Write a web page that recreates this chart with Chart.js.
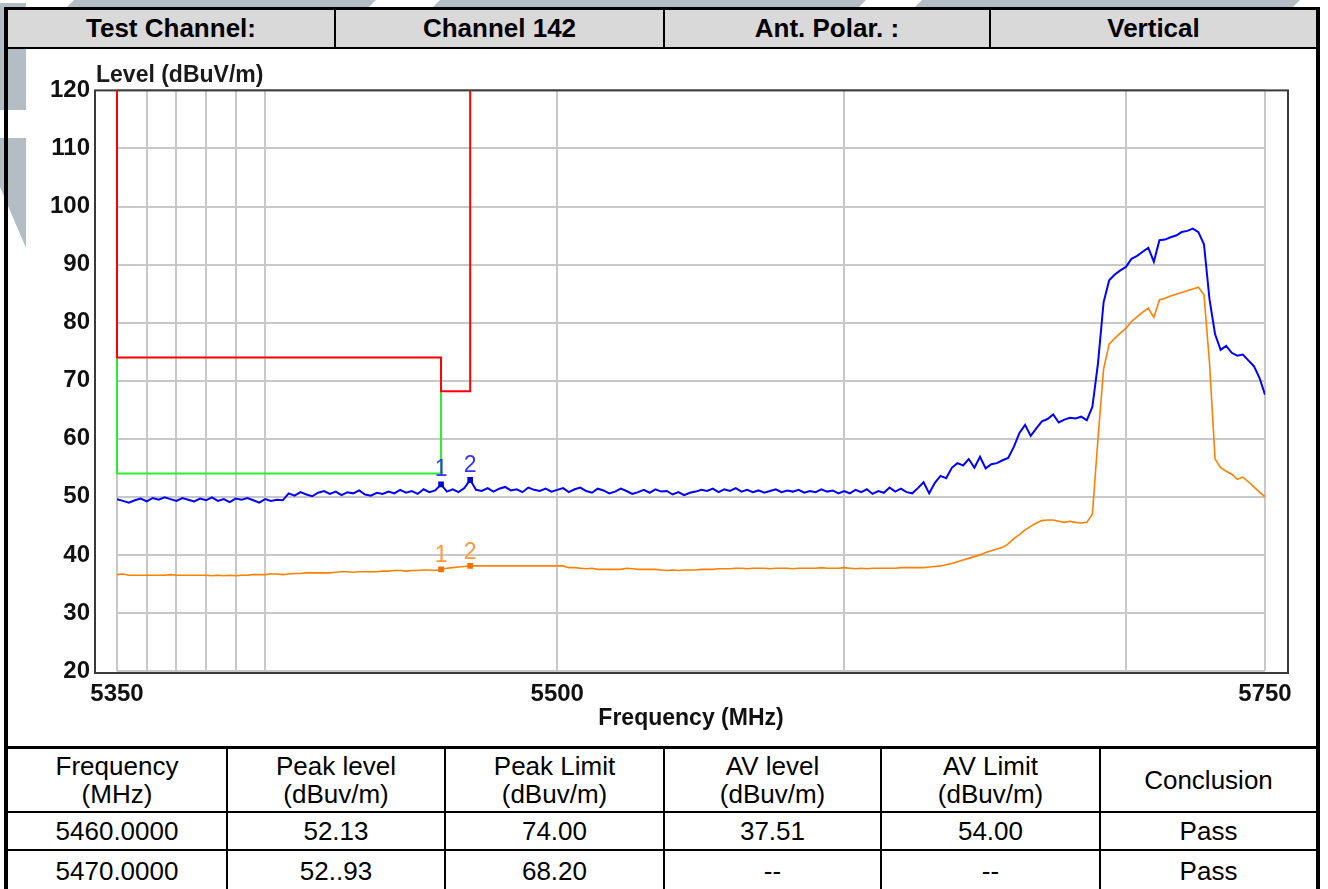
<!DOCTYPE html>
<html>
<head>
<meta charset="utf-8">
<title>Channel 142 - Vertical</title>
<script src="https://cdn.jsdelivr.net/npm/chart.js@4.4.1/dist/chart.umd.min.js"></script>
<style>
  html, body { margin: 0; padding: 0; background: #fff; }
  body {
    width: 1328px; height: 889px; position: relative; overflow: hidden;
    font-family: "Liberation Sans", Arial, sans-serif; color: #000;
  }
  #watermark { position: absolute; left: 0; top: 0; }
  .edge { position: absolute; background: #000; }

  /* header strip */
  #head {
    position: absolute; left: 8px; top: 10px; width: 1308px; height: 37px;
    display: grid; grid-template-columns: 326px 327px 324px 325px;
    column-gap: 2px; background: #000;
  }
  #head div {
    background: #d9d9d9; display: flex; align-items: center; justify-content: center;
    font-weight: bold; font-size: 26px;
  }

  #plot { position: absolute; left: 26px; top: 49px; width: 1290px; height: 697px; background: #fff; }

  /* result table */
  #results {
    position: absolute; left: 8px; top: 749px; width: 1308px; height: 142px;
    display: grid; grid-template-columns: 218px 216px 217px 215px 217px 215px;
    grid-template-rows: 62px 36px 40px; gap: 2px; background: #000;
  }
  #results div {
    background: #fff; display: flex; align-items: center; justify-content: center;
    text-align: center; font-size: 26px; line-height: 28px;
  }
</style>
</head>
<body>

<svg id="watermark" width="1328" height="889">
  <g fill="#b4bcc4">
    <polygon points="0,3 26,3 26,110 0,110"/>
    <polygon points="0,138 26,138 26,248 0,187"/>
    <polygon points="74,0 376,0 368,8 66,8"/>
    <polygon points="440,0 866,0 858,8 432,8"/>
    <polygon points="922,0 1300,0 1292,8 914,8"/>
  </g>
</svg>

<div class="edge" style="left:4px; top:7px; width:1316px; height:3px;"></div>
<div class="edge" style="left:4px; top:7px; width:4px; height:882px;"></div>
<div class="edge" style="left:1316px; top:7px; width:4px; height:882px;"></div>

<div id="head">
  <div>Test Channel:</div>
  <div>Channel 142</div>
  <div>Ant. Polar. :</div>
  <div>Vertical</div>
</div>
<div class="edge" style="left:8px; top:47px; width:1308px; height:2px;"></div>

<div id="plot"><canvas id="levelChart" width="1290" height="697"></canvas></div>

<div class="edge" style="left:8px; top:746px; width:1308px; height:3px;"></div>
<div id="results"></div>

<script>
// ── Sweep: 5350–5750 MHz, 2 MHz steps ─────
const SWEEP_START = 5350;
const SWEEP_STEP  = 2;

// Peak detector trace (dBuV/m)
const peakLevel = [
  49.6, 49.3, 49.0, 49.4, 49.7, 49.2, 49.8, 49.5, 49.9, 49.6,   // 5350
  49.3, 49.8, 49.5, 49.2, 49.7, 49.4, 49.9, 49.3, 49.6, 49.1,   // 5370
  49.7, 49.5, 49.8, 49.4, 49.0, 49.6, 49.3, 49.5, 49.4, 50.6,   // 5390
  50.2, 50.8, 50.4, 50.1, 50.7, 51.0, 50.5, 50.9, 50.3, 50.8,   // 5410
  50.6, 51.1, 50.4, 50.2, 50.7, 50.5, 50.9, 50.6, 51.2, 50.7,   // 5430
  51.0, 50.5, 51.3, 50.8, 51.1, 52.13, 50.9, 51.3, 50.8, 51.5,  // 5450
  52.93, 51.2, 51.0, 51.5, 50.9, 51.4, 51.7, 51.1, 51.3, 50.8,  // 5470
  51.6, 51.2, 51.0, 51.4, 50.9, 51.2, 51.5, 50.8, 51.3, 51.6,   // 5490
  51.0, 50.7, 51.4, 51.1, 50.6, 50.9, 51.4, 51.0, 50.5, 50.8,   // 5510
  51.2, 50.7, 51.3, 50.9, 51.0, 50.4, 50.8, 50.3, 50.7, 50.9,   // 5530
  51.2, 51.0, 51.4, 50.8, 51.3, 51.0, 51.5, 50.9, 51.2, 50.8,   // 5550
  51.1, 50.7, 51.0, 51.3, 50.8, 51.1, 50.9, 51.2, 50.7, 51.0,   // 5570
  50.8, 51.3, 50.9, 51.1, 50.6, 51.0, 50.6, 51.2, 50.8, 51.3,   // 5590
  50.5, 51.0, 50.7, 51.6, 50.9, 51.4, 50.8, 50.6, 51.5, 52.5,   // 5610
  50.6, 52.4, 53.6, 53.2, 55.0, 55.8, 55.4, 56.5, 55.0, 56.9,   // 5630
  54.9, 55.6, 55.8, 56.3, 56.7, 58.6, 61.0, 62.4, 60.5, 61.8,   // 5650
  63.0, 63.4, 64.2, 62.8, 63.3, 63.6, 63.5, 63.8, 63.2, 65.5,   // 5670
  73.0, 83.5, 87.3, 88.3, 89.0, 89.6, 91.0, 91.5, 92.2, 92.9,   // 5690
  90.5, 94.2, 94.3, 94.7, 95.0, 95.6, 95.8, 96.2, 95.6, 93.5,   // 5710
  84.0, 78.0, 75.3, 76.0, 74.8, 74.3, 74.5, 73.5, 72.5, 70.5,   // 5730
  67.6                                                          // 5750
];

// Average detector trace (dBuV/m)
const avgLevel = [
  36.6, 36.7, 36.5, 36.5, 36.5, 36.5, 36.5, 36.5, 36.5, 36.6,   // 5350
  36.5, 36.5, 36.5, 36.5, 36.5, 36.5, 36.4, 36.5, 36.4, 36.5,   // 5370
  36.4, 36.5, 36.5, 36.6, 36.6, 36.6, 36.7, 36.7, 36.6, 36.7,   // 5390
  36.8, 36.8, 36.9, 36.9, 36.9, 36.9, 36.9, 37.0, 37.1, 37.1,   // 5410
  37.0, 37.1, 37.1, 37.1, 37.1, 37.2, 37.2, 37.3, 37.3, 37.2,   // 5430
  37.3, 37.3, 37.4, 37.4, 37.3, 37.51, 37.7, 37.8, 37.9, 38.0,  // 5450
  38.1, 38.1, 38.1, 38.1, 38.1, 38.1, 38.1, 38.1, 38.1, 38.1,   // 5470
  38.1, 38.1, 38.1, 38.1, 38.1, 38.1, 38.1, 37.8, 37.8, 37.7,   // 5490
  37.6, 37.7, 37.5, 37.5, 37.5, 37.5, 37.5, 37.7, 37.6, 37.5,   // 5510
  37.5, 37.5, 37.5, 37.4, 37.3, 37.4, 37.3, 37.4, 37.4, 37.4,   // 5530
  37.5, 37.5, 37.5, 37.6, 37.6, 37.6, 37.7, 37.7, 37.6, 37.7,   // 5550
  37.7, 37.7, 37.6, 37.7, 37.7, 37.7, 37.6, 37.7, 37.7, 37.7,   // 5570
  37.7, 37.8, 37.7, 37.7, 37.7, 37.8, 37.7, 37.6, 37.7, 37.6,   // 5590
  37.7, 37.7, 37.7, 37.7, 37.7, 37.8, 37.8, 37.8, 37.8, 37.8,   // 5610
  37.9, 38.0, 38.1, 38.3, 38.5, 38.8, 39.1, 39.4, 39.7, 40.0,   // 5630
  40.4, 40.7, 41.0, 41.3, 41.9, 42.8, 43.5, 44.3, 44.9, 45.5,   // 5650
  45.9, 46.0, 46.0, 45.8, 45.6, 45.8, 45.6, 45.5, 45.6, 47.0,   // 5670
  60.0, 72.0, 76.3, 77.3, 78.2, 79.0, 80.2, 81.0, 81.8, 82.5,   // 5690
  80.9, 83.9, 84.2, 84.6, 84.9, 85.2, 85.5, 85.8, 86.1, 84.8,   // 5710
  73.0, 56.5, 55.0, 54.4, 53.9, 53.0, 53.4, 52.6, 51.7, 50.8,   // 5730
  50.0                                                          // 5750
];

// Restricted band limits
const peakLimitFreq  = [5350, 5350, 5460, 5460, 5470, 5470];
const peakLimitLevel = [120, 74, 74, 68.2, 68.2, 120];
const avgLimitFreq   = [5350, 5350, 5460, 5460];
const avgLimitLevel  = [74, 54, 54, 74];

// Markers
const markerFreq  = [5460, 5470];
const markerPeak  = [52.13, 52.93];
const markerAvg   = [37.51, 38.1];
const markerNames = ["1", "2"];

// Axes
const gridFreq    = [5350, 5360, 5370, 5380, 5390, 5400, 5500, 5600, 5700, 5750];
const xTickLabels = [5350, 5500, 5750];

// Result table
const tableHead = ["Frequency<br>(MHz)", "Peak level<br>(dBuv/m)", "Peak Limit<br>(dBuv/m)",
                   "AV level<br>(dBuv/m)", "AV Limit<br>(dBuv/m)", "Conclusion"];
const tableRows = [
  ["5460.0000", "52.13", "74.00", "37.51", "54.00", "Pass"],
  ["5470.0000", "52..93", "68.20", "--", "--", "Pass"],
];

// ── Table ─────────────────────────────────
(function buildTable() {
  const box = document.getElementById("results");
  [tableHead, ...tableRows].forEach(row => {
    row.forEach(txt => {
      const cell = document.createElement("div");
      cell.innerHTML = txt;
      box.appendChild(cell);
    });
  });
})();

// ── Helpers ───────────────────────────────
const FONT = "'Liberation Sans', Arial, sans-serif";
const sweepFreq = peakLevel.map((_, i) => SWEEP_START + i * SWEEP_STEP);
const toPoints  = (xs, ys) => xs.map((x, i) => ({ x, y: ys[i] }));

// ── Plugins ───────────────────────────────
// outer frame sits a little wider than the data area
const frameBox = {
  id: "frameBox",
  beforeDatasetsDraw(chart) {
    const { ctx, chartArea: a } = chart;
    ctx.save();
    ctx.strokeStyle = "#3a3a3a";
    ctx.lineWidth = 2;
    ctx.strokeRect(a.left - 22, a.top, a.right - a.left + 45, a.bottom - a.top + 2);
    ctx.restore();
  },
};

const levelCaption = {
  id: "levelCaption",
  afterDraw(chart) {
    const { ctx, chartArea: a } = chart;
    ctx.save();
    ctx.font = "bold 23px " + FONT;
    ctx.fillStyle = "#1a1a1a";
    ctx.textAlign = "left";
    ctx.textBaseline = "alphabetic";
    ctx.fillText("Level (dBuV/m)", a.left - 21, a.top - 8);
    ctx.restore();
  },
};

const markerText = {
  id: "markerText",
  afterDatasetsDraw(chart) {
    const { ctx, scales: { x, y } } = chart;
    ctx.save();
    ctx.font = "23px " + FONT;
    ctx.textAlign = "center";
    ctx.textBaseline = "alphabetic";
    markerFreq.forEach((f, i) => {
      const px = x.getPixelForValue(f);
      ctx.fillStyle = "#3535ff";
      ctx.fillText(markerNames[i], px, y.getPixelForValue(markerPeak[i]) - 8);
      ctx.fillStyle = "#ff9a3c";
      ctx.fillText(markerNames[i], px, y.getPixelForValue(markerAvg[i]) - 7);
    });
    ctx.restore();
  },
};

// ── Chart ─────────────────────────────────
const tickFont = { family: FONT, size: 24, weight: "bold" };
const gridOpts = { color: "#c8c8c8", lineWidth: 2, drawTicks: false };

new Chart(document.getElementById("levelChart"), {
  type: "line",
  data: {
    datasets: [
      {
        label: "Peak marker",
        data: toPoints(markerFreq, markerPeak),
        showLine: false, pointStyle: "rect", pointRadius: 4,
        backgroundColor: "#0000cc", borderColor: "#0000cc", borderWidth: 0,
      },
      {
        label: "AV marker",
        data: toPoints(markerFreq, markerAvg),
        showLine: false, pointStyle: "rect", pointRadius: 4,
        backgroundColor: "#f07000", borderColor: "#f07000", borderWidth: 0,
      },
      {
        label: "Peak",
        data: toPoints(sweepFreq, peakLevel),
        borderColor: "#0000ff", borderWidth: 2, pointRadius: 0, tension: 0,
      },
      {
        label: "AV",
        data: toPoints(sweepFreq, avgLevel),
        borderColor: "#ff8000", borderWidth: 1.6, pointRadius: 0, tension: 0,
      },
      {
        // limit edges run along the 5350 axis, so don't clip them away
        label: "Peak limit",
        data: toPoints(peakLimitFreq, peakLimitLevel),
        borderColor: "#ff0000", borderWidth: 2, pointRadius: 0, tension: 0, clip: 3,
      },
      {
        label: "AV limit",
        data: toPoints(avgLimitFreq, avgLimitLevel),
        borderColor: "#2aee2a", borderWidth: 2, pointRadius: 0, tension: 0, clip: 3,
      },
    ],
  },
  options: {
    responsive: false,
    animation: false,
    events: [],
    layout: { padding: { left: 0, top: 39, right: 51, bottom: 0 } },
    plugins: { legend: { display: false }, tooltip: { enabled: false } },
    scales: {
      x: {
        type: "logarithmic",
        min: 5350,
        max: 5750,
        afterBuildTicks: axis => { axis.ticks = gridFreq.map(v => ({ value: v })); },
        afterFit: axis => { axis.height = 75; },
        grid: gridOpts,
        border: { display: false },
        ticks: {
          autoSkip: false, maxRotation: 0, minRotation: 0, padding: 9,
          color: "#111", font: tickFont,
          callback: v => xTickLabels.includes(v) ? String(v) : "",
        },
        title: {
          display: true, text: "Frequency (MHz)", color: "#111",
          font: { family: FONT, size: 23, weight: "bold" },
          padding: { top: 0, bottom: 14 },
        },
      },
      y: {
        min: 20,
        max: 120,
        afterFit: axis => { axis.width = 91; },
        grid: gridOpts,
        border: { display: false },
        ticks: { stepSize: 10, padding: 27, color: "#111", font: tickFont },
      },
    },
  },
  plugins: [frameBox, levelCaption, markerText],
});
</script>
</body>
</html>
